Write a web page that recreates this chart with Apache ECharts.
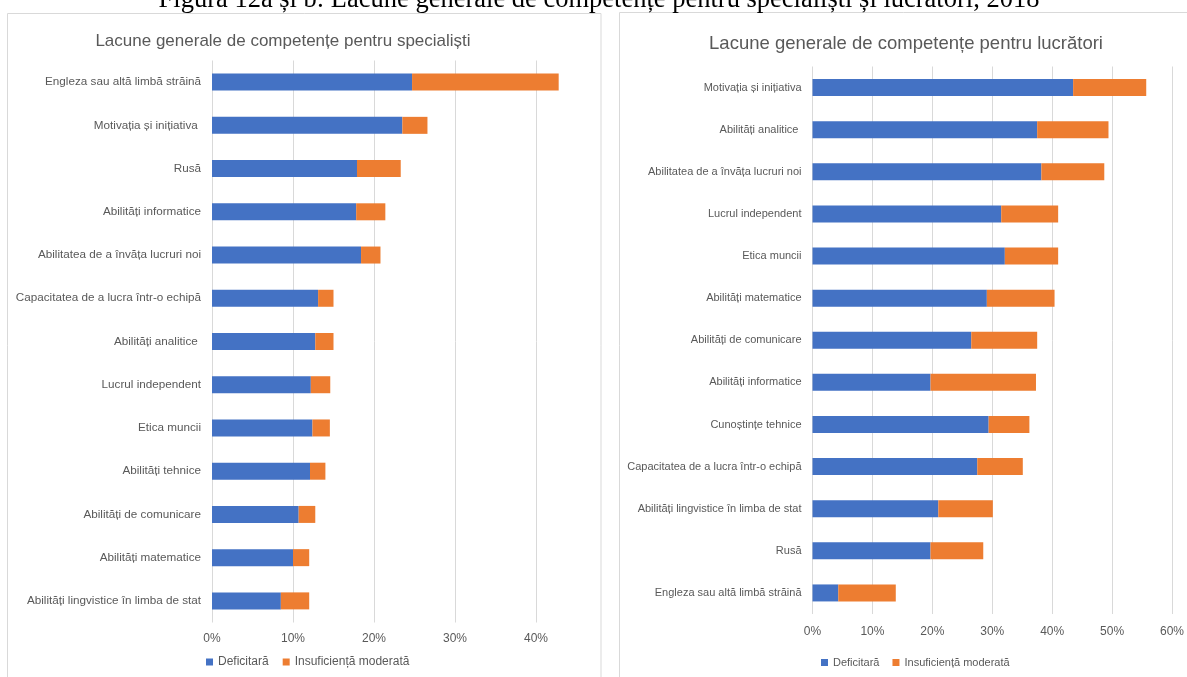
<!DOCTYPE html>
<html>
<head>
<meta charset="utf-8">
<script src="https://cdn.jsdelivr.net/npm/echarts@6/dist/echarts.min.js"></script>
<style>
  html, body { margin: 0; padding: 0; background: #fff; }
  #chart { width: 1187px; height: 677px; }
</style>
</head>
<body>
<div id="chart"></div>
<script>
// Skill gaps, specialists (left panel) — share of firms, %
const specCategories = [
  'Engleza sau altă limbă străină',
  'Motivația și inițiativa ',
  'Rusă',
  'Abilități informatice',
  'Abilitatea de a învăța lucruri noi',
  'Capacitatea de a lucra într-o echipă',
  'Abilități analitice ',
  'Lucrul independent',
  'Etica muncii',
  'Abilități tehnice',
  'Abilități de comunicare',
  'Abilități matematice',
  'Abilități lingvistice în limba de stat'
];
const specDeficit  = [24.7, 23.5, 17.9, 17.8, 18.4, 13.1, 12.75, 12.2, 12.4, 12.1, 10.7, 10.0, 8.5];
const specModerate = [18.1, 3.1, 5.4, 3.6, 2.4, 1.9, 2.25, 2.4, 2.15, 1.9, 2.05, 2.0, 3.5];

// Skill gaps, workers (right panel) — share of firms, %
const workCategories = [
  'Motivația și inițiativa',
  'Abilități analitice ',
  'Abilitatea de a învăța lucruri noi',
  'Lucrul independent',
  'Etica muncii',
  'Abilități matematice',
  'Abilități de comunicare',
  'Abilități informatice',
  'Cunoștințe tehnice',
  'Capacitatea de a lucra într-o echipă',
  'Abilități lingvistice în limba de stat',
  'Rusă',
  'Engleza sau altă limbă străină'
];
const workDeficit  = [43.5, 37.5, 38.2, 31.5, 32.1, 29.1, 26.5, 19.7, 29.4, 27.5, 21.0, 19.7, 4.3];
const workModerate = [12.2, 11.9, 10.5, 9.5, 8.9, 11.3, 11.0, 17.6, 6.8, 7.6, 9.1, 8.8, 9.6];

const seriesNames = ['Deficitară', 'Insuficiență moderată'];
const figureTitle = 'Figura 12a și b: Lacune generale de competențe pentru specialiști și lucrători, 2018';
const leftTitle = 'Lacune generale de competențe pentru specialiști';
const rightTitle = 'Lacune generale de competențe pentru lucrători';

const BLUE = '#4472C4';
const ORANGE = '#ED7D31';
const TEXT = '#595959';
const GRID = '#d9d9d9';
const FONT = '"Liberation Sans", sans-serif';

const chart = echarts.init(document.getElementById('chart'), null, { renderer: 'canvas' });

function valueAxis(gridIndex, max, lineColors, margin) {
  return {
    type: 'value', gridIndex, min: 0, max, interval: 10,
    axisLine: { show: false }, axisTick: { show: false },
    axisLabel: { formatter: '{value}%', color: TEXT, fontFamily: FONT, fontSize: 12, margin, showMaxLabel: max === 60 },
    splitLine: { show: true, lineStyle: { color: lineColors, width: 1 } }
  };
}
function catAxis(gridIndex, data, fontSize) {
  return {
    type: 'category', gridIndex, data, inverse: true,
    axisLine: { show: false }, axisTick: { show: false },
    axisLabel: { color: TEXT, fontFamily: FONT, fontSize, margin: 11 }
  };
}
function bar(name, xi, data, color) {
  return {
    name, type: 'bar', stack: 's' + xi, xAxisIndex: xi, yAxisIndex: xi,
    data, barWidth: 17, itemStyle: { color }, emphasis: { disabled: true }
  };
}

chart.setOption({
  animation: false,
  title: [
    { text: leftTitle, left: 278, top: 28, textAlign: 'center',
      textStyle: { color: TEXT, fontFamily: FONT, fontSize: 17, fontWeight: 'normal' } },
    { text: rightTitle, left: 901, top: 29, textAlign: 'center',
      textStyle: { color: TEXT, fontFamily: FONT, fontSize: 18.5, fontWeight: 'normal' } }
  ],
  legend: [
    { data: seriesNames, left: 201, top: 651, itemWidth: 7, itemHeight: 7, itemGap: 14,
      icon: 'rect', textStyle: { color: TEXT, fontFamily: FONT, fontSize: 12 }, selectedMode: false },
    { data: seriesNames, left: 816, top: 652, itemWidth: 7, itemHeight: 7, itemGap: 13,
      icon: 'rect', textStyle: { color: TEXT, fontFamily: FONT, fontSize: 11 }, selectedMode: false }
  ],
  grid: [
    { left: 212, top: 60.5, width: 364.5, height: 562 },
    { left: 812.5, top: 66.5, width: 364, height: 547.5 }
  ],
  xAxis: [
    valueAxis(0, 45, [GRID, GRID, GRID, GRID, GRID, 'rgba(0,0,0,0)'], 10),
    valueAxis(1, 60, [GRID], 12)
  ],
  yAxis: [catAxis(0, specCategories, 11.7), catAxis(1, workCategories, 11)],
  series: [
    bar(seriesNames[0], 0, specDeficit, BLUE),
    bar(seriesNames[1], 0, specModerate, ORANGE),
    bar(seriesNames[0], 1, workDeficit, BLUE),
    bar(seriesNames[1], 1, workModerate, ORANGE)
  ],
  graphic: [
    { type: 'rect', shape: { x: 7.5, y: 13.5, width: 593.5, height: 700 },
      style: { fill: 'none', stroke: GRID, lineWidth: 1 }, silent: true, z: -1 },
    { type: 'rect', shape: { x: 619.5, y: 12.5, width: 600, height: 700 },
      style: { fill: 'none', stroke: GRID, lineWidth: 1 }, silent: true, z: -1 },
    { type: 'text', x: 599, y: 14,
      style: { text: figureTitle, fill: '#000', font: '26.5px "Liberation Serif", "Times New Roman", serif',
               textAlign: 'center', textVerticalAlign: 'bottom' }, silent: true }
  ]
});
</script>
</body>
</html>
